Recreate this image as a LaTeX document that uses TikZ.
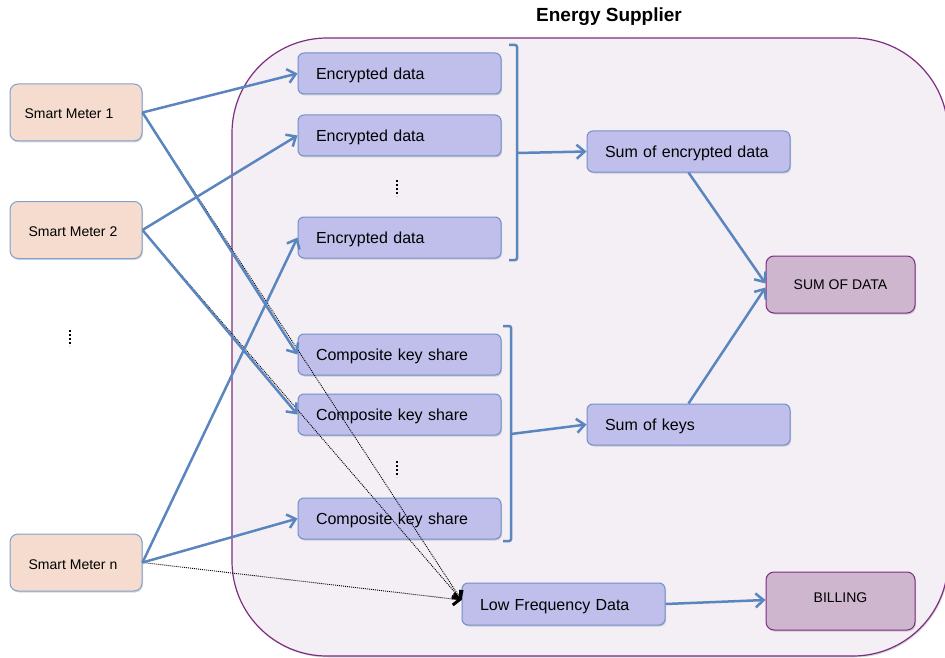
\documentclass[tikz,border=0pt]{standalone}
\usepackage{fontspec}
\setmainfont{Liberation Sans}
\usetikzlibrary{arrows.meta,shadows}
\definecolor{peach}{HTML}{F5DCCE}
\definecolor{peachline}{HTML}{7F9FCC}
\definecolor{lav}{HTML}{C0BFEC}
\definecolor{lavline}{HTML}{7091CB}
\definecolor{plum}{HTML}{CDB6CE}
\definecolor{plumline}{HTML}{7E2D80}
\definecolor{cont}{HTML}{F3EFF4}
\definecolor{arrowblue}{HTML}{5A85BE}
\tikzset{
  softshadow/.style={drop shadow={shadow xshift=1pt,shadow yshift=-1.5pt,opacity=0.25,fill=black!60}},
  meter/.style={draw=peachline,fill=peach,line width=1pt,rounded corners=8pt,minimum width=132pt,minimum height=57pt,inner sep=0pt,text height=13pt,text depth=0pt,font=\fontsize{14}{17}\selectfont,softshadow},
  databox/.style={draw=lavline,fill=lav,line width=1pt,rounded corners=6pt,text width=167pt,inner xsep=18pt,inner ysep=0pt,minimum height=41pt,text height=12pt,text depth=0pt,align=left,font=\fontsize{16}{19}\selectfont,softshadow},
  resbox/.style={draw=plumline,fill=plum,line width=1pt,rounded corners=8pt,minimum width=149pt,minimum height=57pt,inner sep=0pt,text height=10pt,text depth=0pt,font=\fontsize{14}{17}\selectfont,softshadow},
  bluearrow/.style={draw=arrowblue,line width=2.5pt,-{Straight Barb[length=8pt,width=14pt,line width=2.5pt]}},
  blueline/.style={draw=arrowblue,line width=2.5pt},
  dotarrow/.style={draw=black,line width=0.9pt,dash pattern=on 1pt off 1pt,-{Straight Barb[length=6pt,width=12pt,line width=3pt]}},
  vdots/.style={draw=black,line width=2pt,dash pattern=on 2pt off 2pt},
}
\begin{document}
\begin{tikzpicture}[x=1pt,y=-1pt]
\useasboundingbox (0,0) rectangle (945,658);
% container
\path[draw=plumline,fill=cont,line width=1.2pt,rounded corners=95pt,softshadow] (232,38) rectangle (948,656);
\node[font=\bfseries\fontsize{19}{22}\selectfont] (title) at (609,17) {Energy Supplier};
% smart meters
\node[meter] (sm1) at (76,112.5) {\hspace*{-14pt}Smart Meter 1};
\node[meter] (sm2) at (76,230) {\hspace*{-6pt}Smart Meter 2};
\node[meter] (smn) at (76,562.5) {\hspace*{-6pt}Smart Meter n};
\draw[vdots] (70,330) -- (70,346);
% data boxes
\node[databox] (e1) at (399.5,73.5) {Encrypted data};
\node[databox] (e2) at (399.5,135.5) {Encrypted data};
\node[databox] (e3) at (399.5,237.5) {Encrypted data};
\draw[vdots] (397,180) -- (397,196);
\node[databox] (c1) at (399.5,354.5) {Composite key share};
\node[databox] (c2) at (399.5,414.5) {Composite key share};
\node[databox] (c3) at (399.5,518.5) {Composite key share};
\draw[vdots] (397,461) -- (397,477);
\node[databox] (se) at (688.5,151.5) {Sum of encrypted data};
\node[databox] (sk) at (688.5,424.5) {Sum of keys};
\node[databox,minimum height=42pt] (lfd) at (563.5,604) {Low Frequency Data};
\node[resbox] (sd) at (840.5,284.5) {SUM OF DATA};
\node[resbox,minimum height=58pt] (bill) at (840.5,601) {\raisebox{4pt}{BILLING}};
% brackets
\coordinate (b1) at (517,153);
\coordinate (b2) at (511,434);
\draw[blueline,rounded corners=2pt] (509,45) -- (517,45) -- (517,260) -- (509,260);
\draw[blueline,rounded corners=2pt] (503,326) -- (511,326) -- (511,541) -- (503,541);
\draw[bluearrow] (b1) -- (se.west);
\draw[bluearrow] (b2) -- (sk.west);
% dotted arrows
\draw[dotarrow] (sm1.east) -- ([yshift=4pt]lfd.west);
\draw[dotarrow] (sm2.east) -- ([yshift=4pt]lfd.west);
\draw[dotarrow] (smn.east) -- ([yshift=4pt]lfd.west);
% meter arrows
\draw[bluearrow] (sm1.east) -- (e1.west);
\draw[bluearrow] (sm1.east) -- (c1.west);
\draw[bluearrow] (sm2.east) -- (e2.west);
\draw[bluearrow] (sm2.east) -- (c2.west);
\draw[bluearrow] (smn.east) -- (e3.west);
\draw[bluearrow] (smn.east) -- (c3.west);
% results
\draw[bluearrow] (se.south) -- ([yshift=1pt]sd.west);
\draw[bluearrow] (sk.north) -- ([yshift=-3pt]sd.west);
\draw[bluearrow] (lfd.east) -- ([yshift=1pt]bill.west);
\end{tikzpicture}
\end{document}
